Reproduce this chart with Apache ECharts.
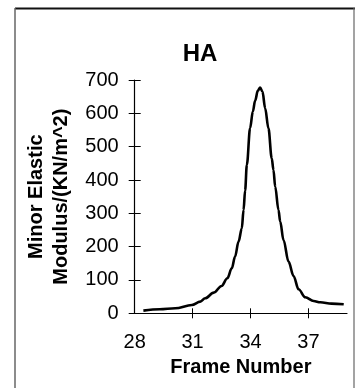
<!DOCTYPE html>
<html>
<head>
<meta charset="utf-8">
<script src="https://cdn.jsdelivr.net/npm/echarts@6/dist/echarts.min.js"></script>
<style>
  html, body { margin: 0; padding: 0; background: #fff; }
  #chart { width: 355px; height: 388px; }
</style>
</head>
<body>
<div id="chart"></div>
<script>
// Frame numbers along the sequence and the measured minor elastic modulus
const frames = [28.45, 29.3, 30.1, 30.96, 31.4, 31.65, 32.1, 32.5, 32.8, 33.03, 33.2, 33.38, 33.55,
  33.64, 33.72, 33.81, 33.98, 34.12, 34.24, 34.38, 34.5, 34.62, 34.76, 34.93, 35.1, 35.19, 35.28,
  35.45, 35.54, 35.71, 35.97, 36.23, 36.49, 36.84, 37.27, 37.62, 38.2, 38.83];
const modulus = [8, 12, 15, 25, 35, 45, 62, 82, 105, 135, 170, 215, 255,
  310, 368, 445, 556, 605, 638, 668, 677, 665, 615, 555, 465, 430, 380,
  310, 275, 220, 155, 112, 72, 48, 37, 33, 29, 27];
const xTickLabels = [28, 31, 34, 37];
const xTickMarks = [31, 34, 37];

const chartTitle = 'HA';
const xName = 'Frame Number';
const yName = 'Minor Elastic\nModulus/(KN/m^2)';

const FONT = '"Liberation Sans", Arial, Helvetica, sans-serif';

const chart = echarts.init(document.getElementById('chart'), null, { renderer: 'canvas' });

const baseX = {
  type: 'value', min: 28, max: 39, interval: 3, position: 'bottom',
  splitLine: { show: false }
};
const baseY = {
  type: 'value', min: 0, max: 700, interval: 100, position: 'left',
  splitLine: { show: false }
};

chart.setOption({
  backgroundColor: '#fff',
  animation: false,
  title: {
    text: chartTitle, left: 195, top: 37, textAlign: 'center',
    textStyle: { fontFamily: FONT, fontSize: 24, fontWeight: 'bold', color: '#000' }
  },
  grid: { left: 134.7, right: 8, top: 80, bottom: 74.7, containLabel: false },
  xAxis: [
    Object.assign({}, baseX, {
      name: xName, nameLocation: 'middle', nameGap: 40,
      nameTextStyle: { fontFamily: FONT, fontSize: 20, fontWeight: 'bold', color: '#000' },
      axisLine: { show: true, lineStyle: { color: '#000', width: 1.2 } },
      axisTick: { show: true, inside: false, length: 5, customValues: xTickMarks, lineStyle: { color: '#000', width: 1 } },
      axisLabel: { show: true, margin: 19, customValues: xTickLabels, fontFamily: FONT, fontSize: 20, color: '#000' }
    }),
    Object.assign({}, baseX, {
      axisLine: { show: false },
      axisTick: { show: true, inside: true, length: 5, customValues: xTickMarks, lineStyle: { color: '#000', width: 1 } },
      axisLabel: { show: false }
    })
  ],
  yAxis: [
    Object.assign({}, baseY, {
      name: yName, nameLocation: 'middle', nameGap: 54, nameRotate: 90,
      nameTextStyle: { fontFamily: FONT, fontSize: 20, fontWeight: 'bold', color: '#000', lineHeight: 25 },
      axisLine: { show: true, lineStyle: { color: '#000', width: 1.2 } },
      axisTick: { show: true, inside: false, length: 6, lineStyle: { color: '#000', width: 1 } },
      axisLabel: { show: true, margin: 16, fontFamily: FONT, fontSize: 20, color: '#000' }
    }),
    Object.assign({}, baseY, {
      axisLine: { show: false },
      axisTick: { show: true, inside: true, length: 6, lineStyle: { color: '#000', width: 1 } },
      axisLabel: { show: false }
    })
  ],
  series: [{
    type: 'line',
    xAxisIndex: 0, yAxisIndex: 0,
    data: frames.map((f, i) => [f, modulus[i]]),
    smooth: 0.35,
    smoothMonotone: 'x',
    symbol: 'none',
    lineStyle: { color: '#000', width: 2.6 }
  }],
  graphic: [
    // frame around the figure
    { type: 'line', shape: { x1: 15, y1: 8.5, x2: 355, y2: 8.5 }, style: { stroke: '#111', lineWidth: 2 } },
    { type: 'line', shape: { x1: 15, y1: 8, x2: 15, y2: 388 }, style: { stroke: '#666', lineWidth: 1.5 } },
    { type: 'line', shape: { x1: 354, y1: 8, x2: 354, y2: 388 }, style: { stroke: '#666', lineWidth: 1.2 } }
  ]
});
</script>
</body>
</html>
